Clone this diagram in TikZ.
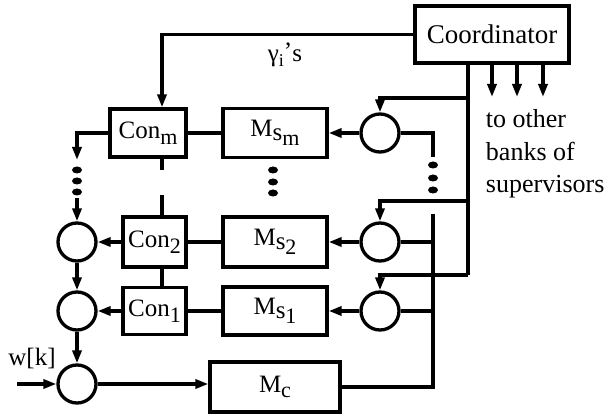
\documentclass[tikz,border=0pt]{standalone}
\usepackage{fontspec}
\setmainfont{Liberation Serif}
\usetikzlibrary{arrows.meta}
\newcommand{\boxfont}{\fontsize{25}{30}\selectfont}
\newcommand{\lowsub}[1]{\raisebox{-0.5ex}{\fontsize{22}{22}\selectfont #1}}
\newcommand{\msub}[1]{M\raisebox{-0.3ex}{s\raisebox{-0.45ex}{\fontsize{22}{22}\selectfont #1}}}
\begin{document}
\begin{tikzpicture}[>={Triangle[length=13pt,width=9pt]}, line width=3.3pt, x=1pt, y=-1pt,
		blk/.style={draw, rectangle, inner sep=0pt, font=\boxfont},
		sumc/.style={draw, circle, minimum size=38pt, inner sep=0pt},
		dotm/.style={x radius=5pt, y radius=3.5pt}]
				\useasboundingbox (0,0) rectangle (606,417);
				% 协调器
				\node[blk, line width=3.8pt, minimum width=154pt, minimum height=57pt, font=\fontsize{27}{32}\selectfont] (coord) at (492,34.5) {Coordinator};
				
				% 控制器与模型
				\node[blk, minimum width=76pt, minimum height=48pt] (conm) at (148,133) {Con\lowsub{m}};
				\node[blk, minimum width=63pt, minimum height=50pt] (con2) at (154.5,242) {Con\lowsub{2}};
				\node[blk, minimum width=63pt, minimum height=47pt] (con1) at (154.5,311) {Con\lowsub{1}};
				\node[blk, minimum width=104pt, minimum height=49pt] (msm) at (275,133) {\msub{m}};
				\node[blk, minimum width=104pt, minimum height=50pt] (ms2) at (275,242) {\msub{2}};
				\node[blk, minimum width=104pt, minimum height=48pt] (ms1) at (275,311) {\msub{1}};
				\node[blk, minimum width=130pt, minimum height=50pt] (mc) at (275,387) {M\lowsub{c}};
				
				% 求和节点
				\node[sumc] (rm) at (380,133) {};
				\node[sumc] (r2) at (380,242) {};
				\node[sumc] (r1) at (380,311) {};
				\node[sumc] (l2) at (77,242) {};
				\node[sumc] (l1) at (77,311) {};
				\node[sumc] (sum) at (77,384) {};
				
				% 标注
				\node[font=\fontsize{25}{28}\selectfont] (gam) at (285,55) {γ\raisebox{-0.4ex}{\fontsize{18}{18}\selectfont i}\raisebox{0.2ex}{'}s};
				\node[font=\fontsize{25}{30}\selectfont] (wlbl) at (32,358) {w[k]};
				\node[align=left, anchor=west, font=\fontsize{26}{32.5}\selectfont] (note) at (481,154) {to other\\banks of\\supervisors};
				
				% 辅助坐标
				\coordinate (cx) at (162,0);
				\coordinate (bx) at (468,0);
				\coordinate (rx) at (433,0);
				\coordinate (ldA) at (77,160);
				\coordinate (ldB) at (77,198);
				\coordinate (win) at (17,384);
				\coordinate (fm) at (468,98);
				\coordinate (f2) at (468,201);
				\coordinate (f1) at (468,275);
				\coordinate (rtop) at (433,157);
				\coordinate (rmid) at (433,214);
				
				% 协调器输出
				\draw[->] (coord.west) -| (conm.north -| cx);
				\draw (coord.south -| bx) -- (f1);
				\draw[->] (fm) -| (rm.north);
				\draw[->] (f2) -| (r2.north);
				\draw[->] (f1) -| (r1.north);
				\foreach \ax in {492,517,543} {
					\coordinate (o\ax) at (\ax,97);
					\draw[->] (o\ax |- coord.south) -- (o\ax);
				}
				
				% 控制器链
				\draw[->] (conm.west) -| (ldA);
				\draw[->] (ldB) -- (l2.north);
				\draw[->] (con2.west) -- (l2.east);
				\draw[->] (l2.south) -- (l1.north);
				\draw[->] (con1.west) -- (l1.east);
				\draw[->] (l1.south) -- (sum.north);
				\draw[->] (win) -- (sum.west);
				\draw[->] (sum.east) -- (sum.east -| mc.west);
				\draw (conm.south -| cx) -- +(0,11);
				\draw (con2.north -| cx) -- +(0,-20);
				\draw (con2.south -| cx) -- (con1.north -| cx);
				
				% 模型连接
				\draw (conm.east) -- (msm.west);
				\draw (con2.east) -- (ms2.west);
				\draw (con1.east) -- (ms1.west);
				\draw[->] (rm.west) -- (msm.east);
				\draw[->] (r2.west) -- (ms2.east);
				\draw[->] (r1.west) -- (ms1.east);
				
				% 反馈线
				\draw (rm.east) -| (rtop);
				\draw (rmid) |- (mc.east);
				\draw (r2.east) -- (r2.east -| rx);
				\draw (r1.east) -- (r1.east -| rx);
				
				% 省略点
				\foreach \dy in {170,181,192} \fill (77,\dy) ellipse [dotm];
				\foreach \dy in {170,182,193} \fill (273,\dy) ellipse [dotm];
				\foreach \dy in {165,178,190} \fill (433,\dy) ellipse [dotm];
			\end{tikzpicture}
\end{document}
